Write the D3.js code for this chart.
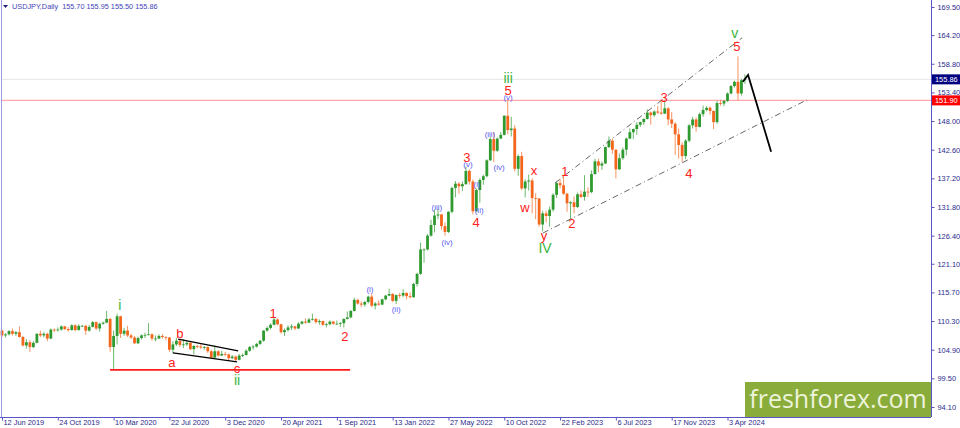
<!DOCTYPE html>
<html>
<head>
<meta charset="utf-8">
<script src="https://cdn.jsdelivr.net/npm/d3@7"></script>
<style>
body { margin: 0; background: #fff; }
svg { display: block; font-family: "Liberation Sans", Arial, sans-serif; }
</style>
</head>
<body>
<svg id="chart" width="960" height="428"></svg>
<script>
// one candle = 6 daily bars
var title = "USDJPY,Daily  155.70 155.95 155.50 155.86";
var firstOpen = 108.5;
var closes = [
	107.6,107.8,108.4,107.9,108.2,107.3,105.7,106.3,105.4,106.2,107.9,107.6,107.9,107.0,108.7,108.6,
	108.7,109.3,108.8,108.6,109.5,108.6,109.4,109.4,108.5,109.2,110.1,108.9,109.8,110.0,110.7,105.4,
	107.5,111.2,107.9,108.5,107.6,107.2,106.1,107.1,107.6,107.7,107.8,107.0,107.0,107.5,107.3,107.2,
	104.9,105.9,106.6,105.8,105.9,106.2,105.0,105.6,105.5,105.3,105.4,104.6,103.4,104.6,103.8,104.1,
	104.0,103.3,103.6,103.0,103.8,103.9,104.7,105.4,105.5,106.0,106.6,108.5,109.0,109.6,110.6,109.7,
	108.2,108.6,109.1,109.3,108.9,109.8,110.2,110.0,110.6,110.7,110.1,110.3,109.6,109.7,110.2,109.8,
	109.8,109.9,110.7,111.0,112.2,114.3,113.6,113.4,113.9,114.9,113.2,113.6,113.4,114.4,115.1,115.4,
	114.1,115.2,115.1,115.6,115.0,114.8,117.3,119.2,123.8,123.8,126.4,128.4,130.2,130.4,128.2,127.1,
	130.9,135.4,136.2,135.7,136.1,138.6,136.6,131.0,135.0,136.9,137.6,140.6,144.6,142.4,144.7,145.4,
	149.0,146.3,146.6,139.0,141.4,135.3,136.6,136.8,133.5,133.4,128.5,130.6,130.1,131.3,134.1,136.3,
	135.9,134.3,132.5,132.7,131.8,134.2,133.7,134.7,134.6,138.0,140.4,139.6,140.0,143.1,144.3,142.6,
	138.9,141.0,142.6,144.7,145.9,146.5,147.3,147.8,148.4,149.6,149.1,149.8,149.6,149.4,150.4,148.3,
	147.5,145.5,143.5,141.4,144.3,147.2,148.3,146.9,149.3,150.1,150.5,149.9,147.8,151.4,151.3,151.8,
	153.2,154.6,155.4,153.2,155.7,155.86
];
var highs = [
	108.7,108.0,108.6,108.9,108.4,109.3,107.5,106.9,106.7,106.5,108.0,108.5,108.2,108.1,108.9,108.9,
	109.1,109.5,109.4,109.2,109.7,109.7,109.7,109.6,109.6,109.6,110.3,110.2,110.0,110.2,112.2,110.9,
	108.5,111.7,111.3,109.0,109.4,107.9,107.5,107.4,107.8,108.1,109.9,108.0,107.6,107.8,107.8,107.4,
	107.3,106.5,107.1,106.7,106.9,106.5,106.3,105.8,105.8,106.1,105.6,105.5,104.9,105.7,104.8,104.7,
	104.5,104.2,103.9,103.8,104.1,104.2,105.0,105.6,105.8,106.2,106.7,108.6,109.3,109.9,111.0,110.8,
	109.8,108.9,109.5,109.7,109.4,110.1,110.3,110.8,110.9,111.7,110.9,110.6,110.4,110.0,110.4,110.3,
	110.4,110.1,110.8,112.1,112.4,114.7,114.5,114.0,114.1,115.1,115.5,113.9,114.2,114.5,115.2,116.4,
	115.6,115.3,115.6,116.3,115.7,115.7,117.5,119.4,125.1,124.0,126.7,129.4,131.3,131.4,130.5,128.9,
	131.0,135.6,136.7,136.5,136.6,139.4,138.9,137.0,135.3,137.2,137.9,140.8,145.0,145.9,144.9,145.9,
	149.1,151.9,148.8,147.2,141.7,142.2,137.0,137.9,137.2,134.4,133.5,131.1,131.1,131.9,134.4,136.6,
	137.1,137.9,134.5,132.9,133.8,134.5,134.9,137.8,135.5,138.7,140.9,140.9,140.4,143.2,145.1,144.7,
	142.7,141.9,143.0,144.9,146.6,146.6,147.8,147.9,148.5,150.2,149.8,150.0,150.8,151.7,151.9,150.6,
	149.7,147.8,146.6,144.0,144.6,147.4,148.8,148.7,149.6,150.9,150.8,150.8,150.0,151.8,152.0,151.9,
	153.4,154.8,155.6,160.2,156.0,156.8
];
var lows = [
	107.3,107.2,107.6,107.6,107.5,107.2,105.5,105.1,104.5,105.2,106.1,107.3,107.2,106.5,106.9,108.2,
	108.3,108.5,108.6,108.3,108.5,108.4,108.5,109.2,107.7,108.3,109.1,108.6,108.3,109.6,109.9,104.5,
	101.2,105.9,107.1,107.5,107.3,106.9,106.0,106.0,106.8,107.1,107.6,106.6,106.5,106.9,107.0,106.7,
	104.5,104.2,105.6,105.4,105.2,105.6,104.8,104.0,105.2,105.0,104.9,104.3,103.2,103.3,103.6,103.7,
	103.7,102.9,103.1,102.6,102.9,103.5,103.8,104.5,104.9,105.3,105.8,106.4,108.3,108.7,109.5,109.5,
	107.9,107.5,108.3,108.6,108.6,108.8,109.6,109.8,109.9,110.4,109.8,109.6,109.4,109.1,109.5,109.6,
	109.6,109.2,109.1,110.6,110.8,112.1,113.4,112.9,113.0,113.6,112.9,112.5,113.2,113.3,114.2,115.0,
	113.9,113.5,114.6,114.8,114.4,114.6,114.7,116.8,119.0,121.3,123.6,126.2,127.0,129.5,127.5,126.4,
	126.9,130.6,133.6,134.3,134.8,136.0,136.0,130.4,130.9,132.6,136.0,137.4,140.5,140.3,142.2,144.6,
	145.3,145.5,145.1,138.5,137.7,135.0,133.6,134.9,130.6,129.5,128.1,127.2,128.9,128.1,130.9,133.5,
	135.3,134.1,130.9,129.6,130.6,131.6,133.5,133.0,133.7,134.4,137.9,138.4,138.8,139.9,142.9,141.8,
	137.2,138.8,140.7,141.5,144.6,144.6,145.4,146.9,147.3,148.3,147.3,148.8,149.3,149.2,149.3,147.2,
	146.7,141.6,140.9,140.3,140.8,144.0,146.6,146.0,146.8,148.8,149.8,149.2,146.5,147.5,150.9,150.8,
	151.6,153.0,154.3,151.9,152.8,155.0
];

var dateLabels = ["12 Jun 2019", "24 Oct 2019", "10 Mar 2020", "22 Jul 2020", "3 Dec 2020", "20 Apr 2021",
	"1 Sep 2021", "13 Jan 2022", "27 May 2022", "10 Oct 2022", "22 Feb 2023", "6 Jul 2023", "17 Nov 2023", "3 Apr 2024"];
var dateTickIndex = [0, 16, 32, 48, 64, 80, 96, 112, 128, 144, 160, 176, 192, 208];
var priceTicks = [169.50, 164.20, 158.80, 153.40, 148.00, 142.60, 137.20, 131.80, 126.40, 121.10, 115.70, 110.30, 104.90, 99.50, 94.10];
var bidPrice = 155.86;
var levelPrice = 151.90;

// wave marks: [text, candle index, price]
var greenWaves = [["i", 33.8, 113.3], ["ii", 67.4, 99.2], ["iii", 145.1, 156.1], ["IV", 155.7, 124.1], ["v", 210.1, 164.6]];
var redWaves = [["a", 48.7, 102.4], ["b", 51.0, 107.9], ["c", 67.4, 101.3], ["1", 77.7, 111.8], ["2", 98.3, 107.3],
	["3", 133.3, 141.2], ["4", 135.9, 128.8], ["5", 145.1, 153.7], ["x", 152.5, 138.6], ["w", 149.9, 131.8],
	["y", 155.4, 126.5], ["1", 161.4, 138.4], ["2", 163.4, 128.6], ["3", 189.8, 152.5], ["4", 196.9, 138.2], ["5", 210.7, 162.0]];
var blueWaves = [["(i)", 105.5, 116.2], ["(ii)", 113.0, 112.4], ["(iii)", 124.7, 131.8], ["(iv)", 127.6, 125.2], ["(v)", 133.6, 139.9],
	["(i)", 136.2, 136.1], ["(ii)", 136.8, 131.2], ["(iii)", 139.9, 145.4], ["(iv)", 142.5, 139.3], ["(v)", 145.1, 152.5]];

var supportLine = [[31.0, 101.1], [99.8, 101.1]];
var triangleUpper = [[50.5, 106.9], [67.7, 104.7]];
var triangleLower = [[49.0, 104.3], [67.4, 102.6]];
var channelUpper = [[158.5, 136.3], [212.2, 163.7]];
var channelLower = [[155.1, 126.9], [230.8, 152.0]];
var forecastPath = [[212.4, 155.4], [213.9, 156.7], [220.5, 142.2]];

var svg = d3.select("#chart");
var right = 931, bottom = 417;

var x = d3.scaleLinear().domain([0, 208]).range([2, 727.5]);
var y = d3.scaleLinear().domain([94.1, 169.5]).range([407, 7]);

var candles = closes.map(function (c, i) {
	return { i: i, open: i == 0 ? firstOpen : closes[i - 1], close: c, high: highs[i], low: lows[i] };
});

// horizontal levels
svg.append("line").attr("x1", 2).attr("x2", right).attr("y1", y(bidPrice)).attr("y2", y(bidPrice))
	.attr("stroke", "#e6e6e6").attr("stroke-width", 1);
svg.append("line").attr("x1", 2).attr("x2", right).attr("y1", y(levelPrice)).attr("y2", y(levelPrice))
	.attr("stroke", "#ffa8a8").attr("stroke-width", 1.2);

var line = d3.line().x(function (d) { return x(d[0]); }).y(function (d) { return y(d[1]); });

svg.append("path").attr("d", line(supportLine)).attr("stroke", "#ff1a1a").attr("stroke-width", 1.6).attr("fill", "none");

// candles
var up = "#2f9a30", down = "#f3661c";
var g = svg.append("g");
g.selectAll("line.wick").data(candles).enter().append("line")
	.attr("class", "wick")
	.attr("x1", function (d) { return x(d.i); })
	.attr("x2", function (d) { return x(d.i); })
	.attr("y1", function (d) { return y(d.high); })
	.attr("y2", function (d) { return y(d.low); })
	.attr("stroke", function (d) { return d.close >= d.open ? up : down; })
	.attr("stroke-opacity", 0.7)
	.attr("stroke-width", 1);
g.selectAll("rect").data(candles).enter().append("rect")
	.attr("x", function (d) { return x(d.i) - 1.4; })
	.attr("width", 2.8)
	.attr("y", function (d) { return y(Math.max(d.open, d.close)); })
	.attr("height", function (d) { return Math.max(0.8, Math.abs(y(d.open) - y(d.close))); })
	.attr("fill", function (d) { return d.close >= d.open ? up : down; });

svg.append("path").attr("d", line(triangleUpper)).attr("stroke", "#000").attr("stroke-width", 1.3).attr("fill", "none");
svg.append("path").attr("d", line(triangleLower)).attr("stroke", "#000").attr("stroke-width", 1.3).attr("fill", "none");
[channelUpper, channelLower].forEach(function (c) {
	svg.append("path").attr("d", line(c)).attr("stroke", "#555").attr("stroke-width", 0.9)
		.attr("stroke-dasharray", "6,3,1,3").attr("fill", "none");
});
svg.append("path").attr("d", line(forecastPath)).attr("stroke", "#000").attr("stroke-width", 1.8).attr("fill", "none");

// wave labels
function labels(data, color, size) {
	svg.append("g").selectAll("text").data(data).enter().append("text")
		.attr("x", function (d) { return x(d[1]); })
		.attr("y", function (d) { return y(d[2]); })
		.attr("text-anchor", "middle")
		.attr("dominant-baseline", "central")
		.attr("fill", color)
		.attr("font-size", size)
		.text(function (d) { return d[0]; });
}
labels(greenWaves, "#3cb43c", 14);
labels(redWaves, "#ff2020", 13);
labels(blueWaves, "#5a5af0", 8);

// axes
var axisColor = "#5656c4", textColor = "#2a2a8c";
svg.append("line").attr("x1", 1.5).attr("x2", 1.5).attr("y1", 0).attr("y2", bottom).attr("stroke", "#9a9ae0");
svg.append("line").attr("x1", right + 0.5).attr("x2", right + 0.5).attr("y1", 0).attr("y2", bottom).attr("stroke", axisColor);
svg.append("line").attr("x1", 0).attr("x2", right).attr("y1", bottom + 0.5).attr("y2", bottom + 0.5).attr("stroke", axisColor);

var yAxis = svg.append("g").attr("transform", "translate(" + (right + 0.5) + ",0)")
	.call(d3.axisRight(y).tickValues(priceTicks).tickFormat(d3.format(".2f")).tickSize(3).tickPadding(3));
var xAxis = svg.append("g").attr("transform", "translate(0," + (bottom + 0.5) + ")")
	.call(d3.axisBottom(x).tickValues(dateTickIndex).tickFormat(function (d, i) { return dateLabels[i]; }).tickSize(3).tickPadding(0));
[yAxis, xAxis].forEach(function (a) {
	a.select(".domain").remove();
	a.selectAll("line").attr("stroke", axisColor);
	a.selectAll("text").attr("fill", textColor).attr("font-size", 7.4).attr("font-family", "Liberation Sans, Arial, sans-serif");
});
xAxis.selectAll("text").attr("text-anchor", "start").attr("dx", 1).attr("y", 2).attr("dy", "0.71em");

// price boxes
[[bidPrice, "#000080"], [levelPrice, "#ff0000"]].forEach(function (b) {
	svg.append("rect").attr("x", right + 1).attr("y", y(b[0]) - 5).attr("width", 28).attr("height", 10).attr("fill", b[1]);
	svg.append("text").attr("x", right + 4).attr("y", y(b[0])).attr("dominant-baseline", "central")
		.attr("fill", "#fff").attr("font-size", 7.4).text(b[0].toFixed(2));
});

// header
svg.append("path").attr("d", "M3,5 L8,5 L5.5,8 Z").attr("fill", "#20207a");
svg.append("text").attr("x", 12).attr("y", 9).attr("fill", "#4444b8").attr("font-size", 7.3).attr("xml:space", "preserve")
	.text(title);

// watermark
svg.append("rect").attr("x", 745).attr("y", 382).attr("width", right - 745).attr("height", bottom - 382).attr("fill", "#8aac3a");
svg.append("text").attr("x", 838).attr("y", 408).attr("text-anchor", "middle").attr("fill", "#eef3dc")
	.attr("font-family", "Open Sans, sans-serif").attr("font-size", 25).text("freshforex.com");
</script>
</body>
</html>
